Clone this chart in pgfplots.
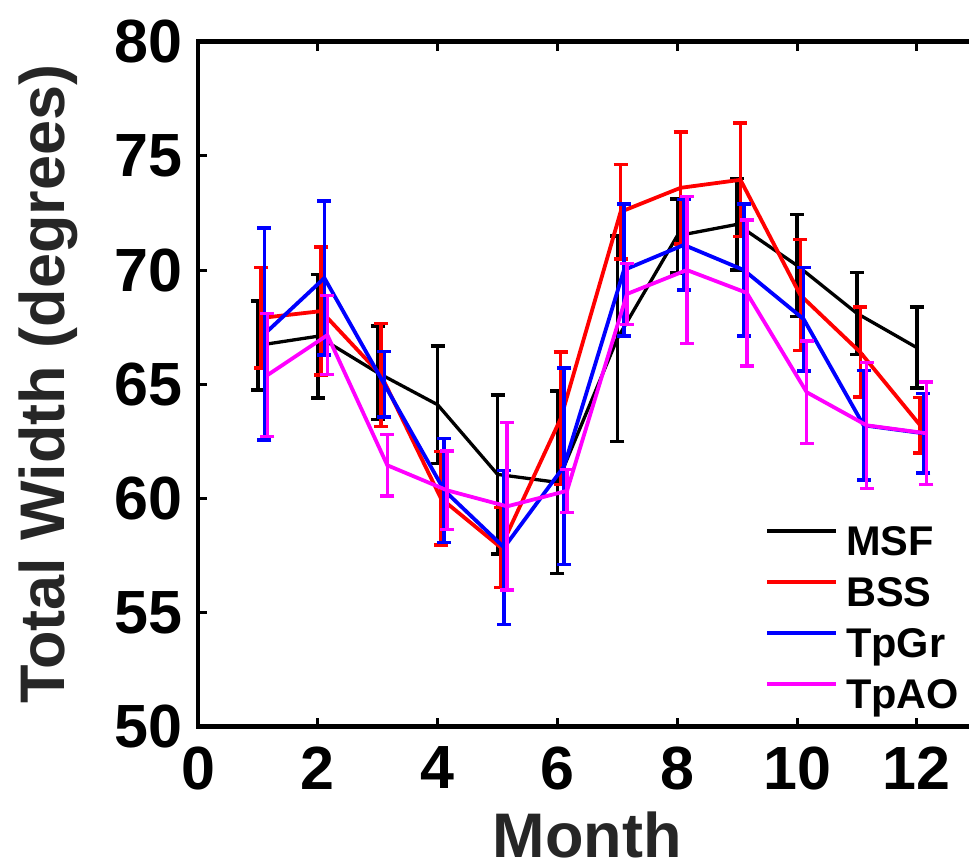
\documentclass[border=0pt]{standalone}
\usepackage{fontspec}
\setmainfont{Liberation Sans}
\usepackage{pgfplots}
\usepackage{pgfplotstable}
\pgfplotsset{compat=1.18}
\definecolor{labgray}{HTML}{262626}
\definecolor{mag}{rgb}{1,0,1}

\pgfplotstableread{
x y e
1 66.7 1.95
2 67.1 2.7
3 65.5 2.05
4 64.1 2.57
5 61.05 3.48
6 60.7 4.0
7 67.0 4.5
8 71.5 1.62
9 72.0 2.0
10 70.2 2.23
11 68.1 1.8
12 66.6 1.77
}\msf

\pgfplotstableread{
x y e
1.055 67.9 2.2
2.055 68.2 2.8
3.055 65.4 2.25
4.055 60.0 2.05
5.055 57.85 1.75
6.055 63.5 2.9
7.055 72.55 2.07
8.055 73.6 2.45
9.055 73.95 2.48
10.055 68.9 2.43
11.055 66.4 1.97
12.055 63.2 1.21
}\bss

\pgfplotstableread{
x y e
1.11 67.2 4.64
2.11 69.65 3.38
3.11 65.0 1.43
4.11 60.35 2.28
5.11 57.85 3.38
6.11 61.4 4.3
7.11 70.0 2.9
8.11 71.1 1.98
9.11 70.0 2.9
10.11 67.85 2.27
11.11 63.2 2.4
12.11 62.85 1.75
}\tpgr

\pgfplotstableread{
x y e
1.16 65.4 2.7
2.16 67.15 1.73
3.16 61.45 1.35
4.16 60.35 1.72
5.16 59.65 3.67
6.16 60.33 0.94
7.16 68.95 1.33
8.16 70.0 3.21
9.16 69.0 3.2
10.16 64.65 2.25
11.16 63.2 2.76
12.16 62.85 2.25
}\tpao

\begin{document}
\begin{tikzpicture}
\begin{axis}[
  name=ax,
  scale only axis, width=771pt, height=685pt,
  xmin=0, xmax=12.87, ymin=50, ymax=80,
  axis x line*=box, axis y line*=left,
  xtick={0,2,...,12}, ytick={50,55,...,80},
  tick align=inside, major tick length=9pt,
  every tick/.style={black, line width=3pt},
  axis line style={line width=4.5pt, black, line cap=rect, -},
  /pgf/number format/assume math mode=true,
  tick label style={font=\fontsize{61}{61}\selectfont\bfseries, inner sep=0pt, black},
  xticklabel style={yshift=-20pt},
  yticklabel style={xshift=-15pt},
  xlabel={Month},
  ylabel={Total Width (degrees)},
  label style={font=\fontsize{63}{63}\selectfont\bfseries, text=labgray, inner sep=0pt},
  xlabel style={at={(axis description cs:0.505,-0.1245)}, anchor=north},
  ylabel style={at={(axis description cs:-0.1725,0.5)}, anchor=base},
  legend style={draw=none, fill=none, at={(axis cs:9.466,58.8)}, anchor=north west,
    inner sep=0pt, outer sep=0pt, font=\fontsize{41.5}{41.5}\selectfont\bfseries,
    row sep=12pt, column sep=8pt,
    nodes={inner sep=0pt, text height=30pt, text depth=9pt}},
  legend image code/.code={\draw[#1, line width=4pt] (0pt,14pt) -- (69pt,14pt);},
  legend cell align=left,
]
\addplot[black, line width=3.3pt, error bars/.cd, y dir=both, y explicit,
  error bar style={line width=3.5pt, black},
  error mark options={black, rotate=90, mark size=7pt, line width=3.5pt}]
  table[x=x, y=y, y error=e]{\msf};
\addlegendentry{MSF}
\addplot[red, line width=3.8pt, error bars/.cd, y dir=both, y explicit,
  error bar style={line width=3.5pt, red},
  error mark options={red, rotate=90, mark size=7pt, line width=3.5pt}]
  table[x=x, y=y, y error=e]{\bss};
\addlegendentry{BSS}
\addplot[blue, line width=3.8pt, error bars/.cd, y dir=both, y explicit,
  error bar style={line width=3.5pt, blue},
  error mark options={blue, rotate=90, mark size=7pt, line width=3.5pt}]
  table[x=x, y=y, y error=e]{\tpgr};
\addlegendentry{TpGr}
\addplot[mag, line width=3.8pt, error bars/.cd, y dir=both, y explicit,
  error bar style={line width=3.5pt, mag},
  error mark options={mag, rotate=90, mark size=7pt, line width=3.5pt}]
  table[x=x, y=y, y error=e]{\tpao};
\addlegendentry{TpAO}
\end{axis}
\pgfresetboundingbox
\path[use as bounding box] ([xshift=-198pt,yshift=-134.3pt]ax.south west) rectangle ([xshift=771pt,yshift=726.7pt]ax.south west);
\end{tikzpicture}
\end{document}
